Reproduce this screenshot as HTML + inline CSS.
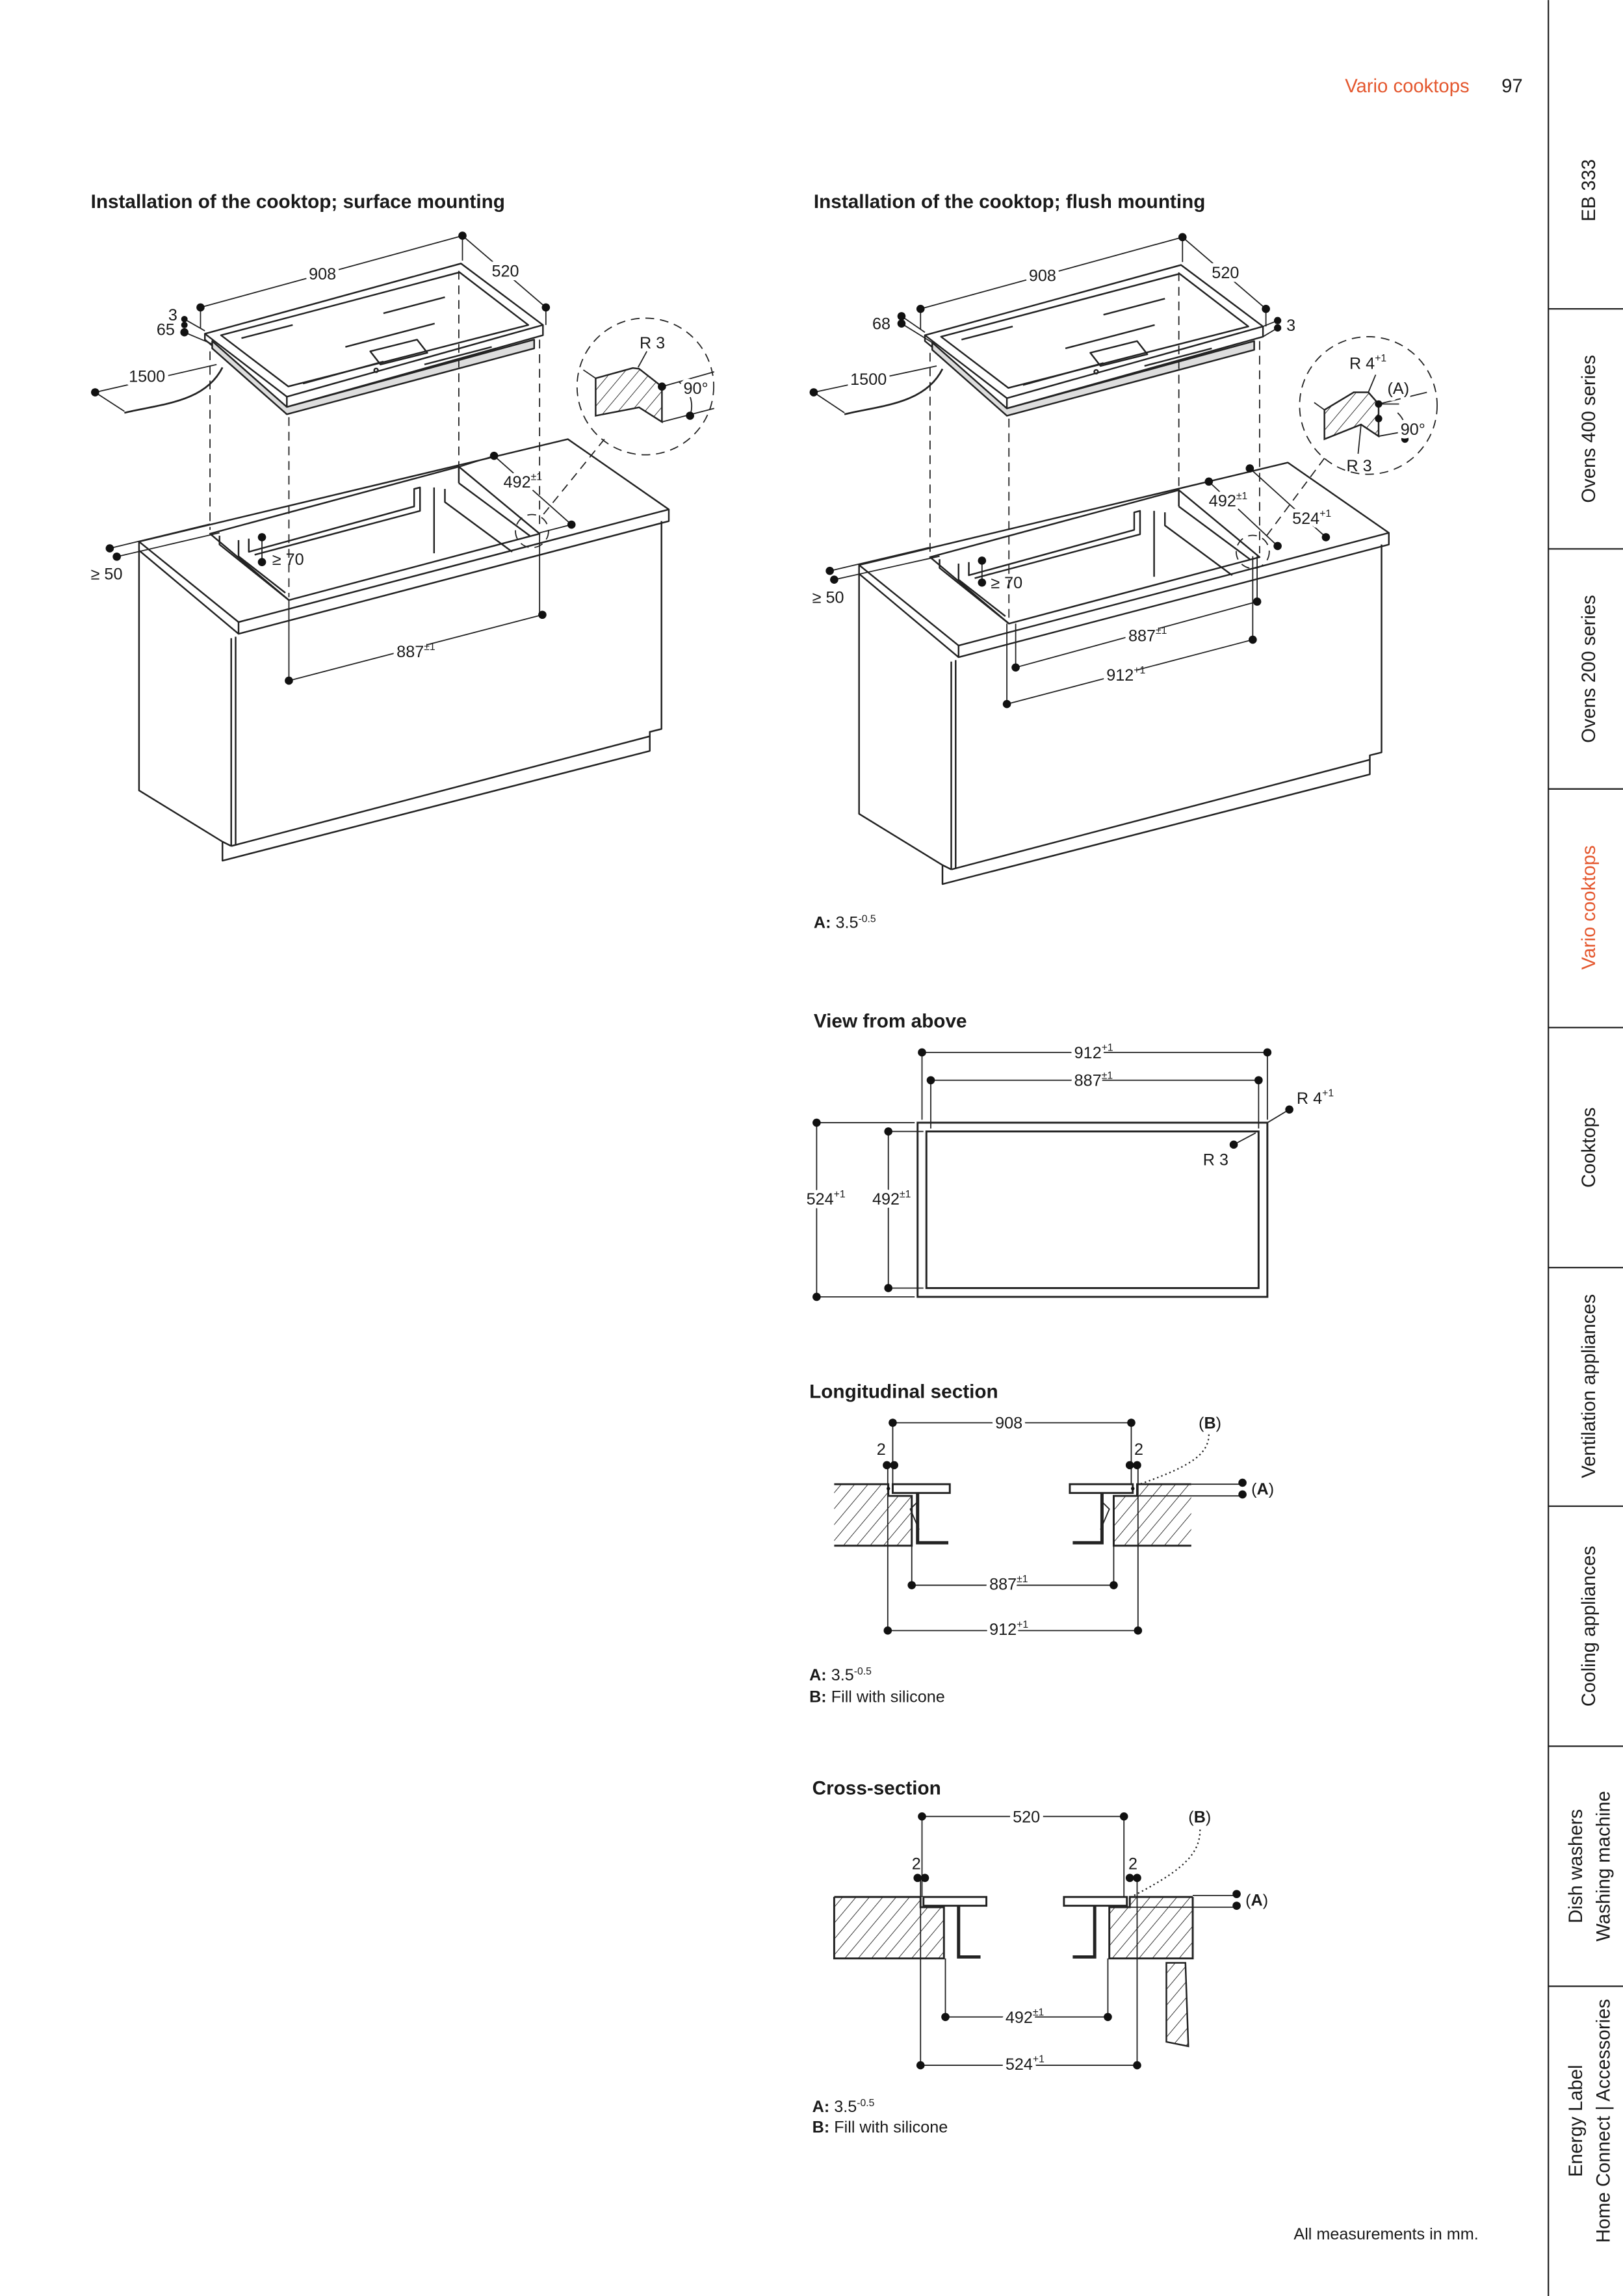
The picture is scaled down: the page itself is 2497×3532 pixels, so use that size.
<!DOCTYPE html>
<html><head><meta charset="utf-8"><style>
html,body{margin:0;padding:0;background:#fff}
svg{display:block}
text{font-family:"Liberation Sans",sans-serif;fill:#1a1a1a}
.h{font-size:13.2px;font-weight:bold}
.t{font-size:11.2px}
.s{font-size:7px;stroke:none}
.g{paint-order:stroke;stroke:#fff;stroke-width:5px;stroke-linejoin:round}
.side{font-size:13px}
</style></head><body>
<svg width="2497" height="3532" viewBox="0 0 1109 1568.6" xmlns="http://www.w3.org/2000/svg">
<defs>
<pattern id="hat" patternUnits="userSpaceOnUse" width="7" height="7" patternTransform="rotate(40)">
<line x1="0" y1="0" x2="0" y2="7" stroke="#222" stroke-width="0.8"/>
</pattern>
<g id="body" fill="none" stroke="#222" stroke-width="1.1" stroke-linejoin="round">
<polygon points="95,370 388,300 457,348 163,425" fill="#fff"/>
<polyline points="163,425 163,433 457,356 457,348"/>
<polyline points="95,370 95,376 163,433"/>
<polyline points="95,376 95,540 152,575 152,588 444,513 444,500 452,498 452,356"/>
<line x1="158" y1="436" x2="158" y2="578"/>
<line x1="161" y1="435" x2="161" y2="577"/>
<line x1="158" y1="578" x2="444" y2="503"/>
<line x1="152" y1="575" x2="158" y2="578"/>
<polygon points="143.5,364.6 313.5,318.8 368.7,364.6 197.4,410" fill="#fff"/>
<polyline points="150,366 150,372 197.4,410"/>
<polyline points="313.5,318.8 313.5,330"/>
<polyline points="313.5,330 362,366"/>
<polyline points="296.6,333 296.6,378"/>
<polyline points="163,369 163,380 195,405"/>
<polyline points="170,368 170,377 283,346 283,334 287,333 287,349 174,379"/>
<polyline points="304,334 304,343 350,377"/>
</g>
<g id="top" fill="none" stroke="#222" stroke-width="1.1" stroke-linejoin="round">
<polygon points="140,228 315,180 371,222 196,271" fill="#fff"/>
<polygon points="151,229 314,186 361,222 197,264"/>
<polyline points="140,228 140,232 196,278 371,229 371,222"/>
<line x1="196" y1="271" x2="196" y2="278"/>
<polygon points="145,233 145,238 196,283 365,238 365,232 196,278" fill="#ddd"/>
<line x1="165" y1="231" x2="200" y2="222"/>
<line x1="262" y1="214" x2="304" y2="203"/>
<line x1="236" y1="237" x2="297" y2="221"/>
<line x1="290" y1="249" x2="336" y2="237"/>
<line x1="207" y1="262" x2="262" y2="247"/>
<polygon points="253,240 285,232 292,241 260,249"/>
<circle cx="257" cy="253" r="1.3"/>
</g>
</defs>

<text x="919" y="63" style="font-size:13px;fill:#e4572e">Vario cooktops</text>
<text x="1026" y="63" style="font-size:13px">97</text>

<g stroke="#222" stroke-width="1">
<line x1="1058" y1="0" x2="1058" y2="1569"/>
<line x1="1058" y1="211" x2="1109" y2="211"/>
<line x1="1058" y1="375" x2="1109" y2="375"/>
<line x1="1058" y1="539" x2="1109" y2="539"/>
<line x1="1058" y1="702" x2="1109" y2="702"/>
<line x1="1058" y1="866" x2="1109" y2="866"/>
<line x1="1058" y1="1029" x2="1109" y2="1029"/>
<line x1="1058" y1="1193" x2="1109" y2="1193"/>
<line x1="1058" y1="1357" x2="1109" y2="1357"/>
</g>
<g class="side" text-anchor="middle">
<text transform="translate(1090,130) rotate(-90)">EB 333</text>
<text transform="translate(1090,293) rotate(-90)">Ovens 400 series</text>
<text transform="translate(1090,457) rotate(-90)">Ovens 200 series</text>
<text transform="translate(1090,620) rotate(-90)" style="fill:#e4572e">Vario cooktops</text>
<text transform="translate(1090,784) rotate(-90)">Cooktops</text>
<text transform="translate(1090,947) rotate(-90)">Ventilation appliances</text>
<text transform="translate(1090,1111) rotate(-90)">Cooling appliances</text>
<text transform="translate(1081,1275) rotate(-90)">Dish washers</text>
<text transform="translate(1100,1275) rotate(-90)">Washing machine</text>
<text transform="translate(1081,1449) rotate(-90)">Energy Label</text>
<text transform="translate(1100,1449) rotate(-90)">Home Connect | Accessories</text>
</g>

<text x="62" y="142" class="h">Installation of the cooktop; surface mounting</text>
<text x="556" y="142" class="h">Installation of the cooktop; flush mounting</text>
<text x="556" y="702" class="h">View from above</text>
<text x="553" y="955" class="h">Longitudinal section</text>
<text x="555" y="1226" class="h">Cross-section</text>

<!-- LEFT DRAWING -->
<use href="#body"/>
<use href="#top"/>
<g fill="none" stroke="#222" stroke-width="0.8">
<path d="M152,251 C140,275 110,276 85,282" stroke-width="1.2"/>
<line x1="65" y1="268" x2="85" y2="281"/>
<line x1="65" y1="268" x2="148" y2="249"/>
<g stroke-dasharray="6,4">
<line x1="143.5" y1="240" x2="143.5" y2="362"/>
<line x1="197.4" y1="285" x2="197.4" y2="408"/>
<line x1="313.5" y1="185" x2="313.5" y2="318"/>
<line x1="368.7" y1="232" x2="368.7" y2="362"/>
<circle cx="441" cy="264" r="46.7"/>
<circle cx="363.5" cy="362.8" r="11.3"/>
<line x1="413" y1="300" x2="370" y2="353"/>
</g>
<line x1="197.4" y1="410" x2="197.4" y2="465"/>
<line x1="368.7" y1="365" x2="368.7" y2="420"/>
<line x1="197.4" y1="465" x2="370.6" y2="420"/>
<line x1="137" y1="210" x2="316" y2="161"/>
<line x1="137" y1="210" x2="137" y2="224"/>
<line x1="316" y1="161" x2="316" y2="178"/>
<line x1="316" y1="161" x2="373" y2="210"/>
<line x1="373" y1="210" x2="373" y2="222"/>
<line x1="126" y1="218" x2="140" y2="226"/>
<line x1="126" y1="227" x2="145" y2="235"/>
<line x1="337.6" y1="311.4" x2="390.5" y2="358.4"/>
<line x1="337.6" y1="311.4" x2="313.5" y2="319"/>
<line x1="390.5" y1="358.4" x2="368.7" y2="364"/>
<line x1="75" y1="374.6" x2="143.5" y2="358"/>
<line x1="79.8" y1="380.3" x2="150" y2="364"/>
<line x1="179" y1="367" x2="179" y2="384"/>
<polygon points="407,258.4 432.4,251.4 436.7,251.9 452.3,264.1 452.3,288.2 436.7,278.3 407,284" fill="url(#hat)" stroke-width="1.1"/>
<line x1="398.6" y1="252.7" x2="407" y2="258.4"/>
<line x1="452.3" y1="264.1" x2="488" y2="254"/>
<line x1="452.3" y1="288.2" x2="488" y2="279"/>
<path d="M464,261 A20,20 0 0 1 471.5,284"/>
<line x1="436" y1="251" x2="442" y2="240"/>
</g>
<g fill="#111">
<circle cx="137" cy="210" r="2.8"/><circle cx="316" cy="161" r="2.8"/><circle cx="373" cy="210" r="2.8"/>
<circle cx="126" cy="218" r="2.2"/><circle cx="126" cy="222" r="2.2"/><circle cx="126" cy="227" r="2.8"/>
<circle cx="65" cy="268" r="2.8"/>
<circle cx="75" cy="374.6" r="2.8"/><circle cx="79.8" cy="380.3" r="2.8"/>
<circle cx="179" cy="367" r="2.8"/><circle cx="179" cy="384" r="2.8"/>
<circle cx="337.6" cy="311.4" r="2.8"/><circle cx="390.5" cy="358.4" r="2.8"/>
<circle cx="197.4" cy="465" r="2.8"/><circle cx="370.6" cy="420" r="2.8"/>
<circle cx="452.3" cy="264.1" r="2.8"/><circle cx="471.5" cy="284" r="2.8"/>
</g>
<g class="t">
<text x="211" y="191" class="g">908</text>
<text x="336" y="189" class="g">520</text>
<text x="115" y="219">3</text>
<text x="107" y="229">65</text>
<text x="88" y="261" class="g">1500</text>
<text x="344" y="333" class="g">492<tspan class="s" dy="-5">±1</tspan></text>
<text x="271" y="449" class="g">887<tspan class="s" dy="-5">±1</tspan></text>
<text x="62" y="396">≥ 50</text>
<text x="186" y="386">≥ 70</text>
<text x="437" y="238">R 3</text>
<text x="467" y="269" class="g">90°</text>
</g>

<!-- RIGHT DRAWING -->
<use href="#body" transform="translate(492,16)"/>
<use href="#top" transform="translate(492,1)"/>
<g fill="none" stroke="#222" stroke-width="0.8">
<path d="M644,252 C632,276 602,277 577,283" stroke-width="1.2"/>
<line x1="556" y1="268" x2="577" y2="282"/>
<line x1="556" y1="268" x2="640" y2="250"/>
<g stroke-dasharray="6,4">
<line x1="635.5" y1="241" x2="635.5" y2="378"/>
<line x1="689.4" y1="286" x2="689.4" y2="424"/>
<line x1="805.5" y1="186" x2="805.5" y2="334"/>
<line x1="860.7" y1="233" x2="860.7" y2="378"/>
<circle cx="935" cy="277" r="47"/>
<circle cx="856" cy="377" r="11.3"/>
<line x1="905" y1="313" x2="864" y2="368"/>
</g>
<line x1="694" y1="426" x2="694" y2="456"/>
<line x1="688" y1="426" x2="688" y2="481"/>
<line x1="856" y1="380" x2="856" y2="437"/>
<line x1="859" y1="380" x2="859" y2="411"/>
<line x1="694" y1="456" x2="859" y2="411"/>
<line x1="688" y1="481" x2="856" y2="437"/>
<line x1="629" y1="211" x2="808" y2="162"/>
<line x1="629" y1="211" x2="629" y2="225"/>
<line x1="808" y1="162" x2="808" y2="179"/>
<line x1="808" y1="162" x2="865" y2="211"/>
<line x1="865" y1="211" x2="865" y2="223"/>
<line x1="616" y1="216" x2="632" y2="227"/>
<line x1="616" y1="221" x2="637" y2="234"/>
<line x1="873" y1="219" x2="863" y2="223"/>
<line x1="873" y1="224" x2="863" y2="230"/>
<line x1="826" y1="329" x2="873" y2="373"/>
<line x1="854" y1="320" x2="906" y2="367"/>
<line x1="567" y1="390" x2="635" y2="374"/>
<line x1="570" y1="396" x2="642" y2="380"/>
<line x1="671" y1="383" x2="671" y2="398"/>
<polygon points="905,280 925,268 935,268 942,276 942,298 930,290 905,300" fill="url(#hat)" stroke-width="1.1"/>
<line x1="898" y1="275" x2="905" y2="280"/>
<line x1="942" y1="276" x2="975" y2="268"/>
<line x1="942" y1="298" x2="975" y2="292"/>
<line x1="935" y1="268" x2="940" y2="256"/>
<line x1="942" y1="276" x2="956" y2="276"/>
<path d="M955,282 A18,18 0 0 1 960,300"/>
<line x1="930" y1="290" x2="928" y2="310"/>
</g>
<g fill="#111">
<circle cx="629" cy="211" r="2.8"/><circle cx="808" cy="162" r="2.8"/><circle cx="865" cy="211" r="2.8"/>
<circle cx="616" cy="216" r="2.8"/><circle cx="616" cy="221" r="2.8"/>
<circle cx="873" cy="219" r="2.5"/><circle cx="873" cy="224" r="2.5"/>
<circle cx="556" cy="268" r="2.8"/>
<circle cx="567" cy="390" r="2.8"/><circle cx="570" cy="396" r="2.8"/>
<circle cx="671" cy="383" r="2.8"/><circle cx="671" cy="398" r="2.8"/>
<circle cx="826" cy="329" r="2.8"/><circle cx="873" cy="373" r="2.8"/>
<circle cx="854" cy="320" r="2.8"/><circle cx="906" cy="367" r="2.8"/>
<circle cx="694" cy="456" r="2.8"/><circle cx="859" cy="411" r="2.8"/>
<circle cx="688" cy="481" r="2.8"/><circle cx="856" cy="437" r="2.8"/>
<circle cx="942" cy="276" r="2.5"/><circle cx="942" cy="286" r="2.5"/><circle cx="960" cy="300" r="2.5"/>
</g>
<g class="t">
<text x="703" y="192" class="g">908</text>
<text x="828" y="190" class="g">520</text>
<text x="596" y="225">68</text>
<text x="879" y="226">3</text>
<text x="581" y="263" class="g">1500</text>
<text x="826" y="346" class="g">492<tspan class="s" dy="-5">±1</tspan></text>
<text x="883" y="358" class="g">524<tspan class="s" dy="-5">+1</tspan></text>
<text x="771" y="438" class="g">887<tspan class="s" dy="-5">±1</tspan></text>
<text x="756" y="465" class="g">912<tspan class="s" dy="-5">+1</tspan></text>
<text x="555" y="412">≥ 50</text>
<text x="677" y="402">≥ 70</text>
<text x="922" y="252">R 4<tspan class="s" dy="-5">+1</tspan></text>
<text x="948" y="269" class="g">(A)</text>
<text x="957" y="297" class="g">90°</text>
<text x="920" y="322">R 3</text>
</g>
<text x="556" y="634" class="t"><tspan font-weight="bold">A:</tspan> 3.5<tspan class="s" dy="-4">-0.5</tspan></text>

<!-- VIEW FROM ABOVE -->
<g fill="none" stroke="#222">
<rect x="627" y="767" width="239" height="119" stroke-width="1.3"/>
<rect x="633" y="773" width="227" height="107" stroke-width="1.3"/>
<g stroke-width="0.8">
<line x1="630" y1="719" x2="866" y2="719"/><line x1="630" y1="719" x2="630" y2="765"/><line x1="866" y1="719" x2="866" y2="765"/>
<line x1="636" y1="738" x2="860" y2="738"/><line x1="636" y1="738" x2="636" y2="771"/><line x1="860" y1="738" x2="860" y2="771"/>
<line x1="558" y1="767" x2="625" y2="767"/><line x1="558" y1="886" x2="625" y2="886"/><line x1="558" y1="767" x2="558" y2="886"/>
<line x1="607" y1="773" x2="631" y2="773"/><line x1="607" y1="880" x2="631" y2="880"/><line x1="607" y1="773" x2="607" y2="880"/>
<line x1="881" y1="758" x2="866" y2="767"/>
<line x1="843" y1="782" x2="858" y2="774"/>
</g>
</g>
<g fill="#111">
<circle cx="630" cy="719" r="2.8"/><circle cx="866" cy="719" r="2.8"/>
<circle cx="636" cy="738" r="2.8"/><circle cx="860" cy="738" r="2.8"/>
<circle cx="558" cy="767" r="2.8"/><circle cx="558" cy="886" r="2.8"/>
<circle cx="607" cy="773" r="2.8"/><circle cx="607" cy="880" r="2.8"/>
<circle cx="881" cy="758" r="2.8"/><circle cx="843" cy="782" r="2.8"/>
</g>
<g class="t">
<text x="734" y="723" class="g">912<tspan class="s" dy="-5">+1</tspan></text>
<text x="734" y="742" class="g">887<tspan class="s" dy="-5">±1</tspan></text>
<text x="886" y="754">R 4<tspan class="s" dy="-5">+1</tspan></text>
<text x="822" y="796">R 3</text>
<text x="551" y="823" class="g">524<tspan class="s" dy="-5">+1</tspan></text>
<text x="596" y="823" class="g">492<tspan class="s" dy="-5">±1</tspan></text>
</g>

<!-- LONGITUDINAL SECTION -->
<g fill="none" stroke="#222" stroke-width="0.8">
<polygon points="570,1014 607,1014 607,1022 623,1022 623,1056 570,1056" fill="url(#hat)" stroke="none"/>
<polyline points="570,1014 607,1014 607,1022 623,1022 623,1056 570,1056" stroke-width="1.3"/>
<polygon points="814,1014 777,1014 777,1022 761,1022 761,1056 814,1056" fill="url(#hat)" stroke="none"/>
<polyline points="814,1014 777,1014 777,1022 761,1022 761,1056 814,1056" stroke-width="1.3"/>
<rect x="610" y="1014" width="39" height="6" stroke-width="1.3" fill="#fff"/>
<rect x="731" y="1014" width="43" height="6" stroke-width="1.3" fill="#fff"/>
<polyline points="627,1020 627,1054 648,1054" stroke-width="2.2"/>
<polyline points="753,1020 753,1054 733,1054" stroke-width="2.2"/>
<polyline points="627,1026 622,1031 628,1045"/>
<polyline points="753,1026 758,1031 752,1045"/>
<line x1="610" y1="972" x2="773" y2="972"/>
<line x1="610" y1="972" x2="610" y2="1014"/>
<line x1="773" y1="972" x2="773" y2="1014"/>
<line x1="606.6" y1="1001" x2="606.6" y2="1114"/>
<line x1="777.6" y1="1001" x2="777.6" y2="1114"/>
<line x1="606.6" y1="1114" x2="777.6" y2="1114"/>
<line x1="623" y1="1056" x2="623" y2="1083"/>
<line x1="761" y1="1056" x2="761" y2="1083"/>
<line x1="623" y1="1083" x2="761" y2="1083"/>
<line x1="814" y1="1014" x2="849" y2="1014"/>
<line x1="777" y1="1022" x2="849" y2="1022"/>
<path d="M826,980 C826,995 810,1003 776,1015" stroke-dasharray="1,2" stroke-width="1"/>
</g>
<g fill="#111">
<circle cx="610" cy="972" r="2.8"/><circle cx="773" cy="972" r="2.8"/>
<circle cx="606" cy="1001" r="2.8"/><circle cx="611" cy="1001" r="2.8"/>
<circle cx="772" cy="1001" r="2.8"/><circle cx="777" cy="1001" r="2.8"/>
<circle cx="623" cy="1083" r="2.8"/><circle cx="761" cy="1083" r="2.8"/>
<circle cx="606.6" cy="1114" r="2.8"/><circle cx="777.6" cy="1114" r="2.8"/>
<circle cx="849" cy="1013" r="2.8"/><circle cx="849" cy="1021" r="2.8"/>
<circle cx="607" cy="1017" r="1.2"/><circle cx="774" cy="1017" r="1.2"/>
</g>
<g class="t">
<text x="680" y="976" class="g">908</text>
<text x="599" y="994">2</text>
<text x="775" y="994">2</text>
<text x="819" y="976">(<tspan font-weight="bold">B</tspan>)</text>
<text x="855" y="1021">(<tspan font-weight="bold">A</tspan>)</text>
<text x="676" y="1086" class="g">887<tspan class="s" dy="-5">±1</tspan></text>
<text x="676" y="1117" class="g">912<tspan class="s" dy="-5">+1</tspan></text>
<text x="553" y="1148"><tspan font-weight="bold">A:</tspan> 3.5<tspan class="s" dy="-4">-0.5</tspan></text>
<text x="553" y="1163"><tspan font-weight="bold">B:</tspan> Fill with silicone</text>
</g>

<!-- CROSS SECTION -->
<g fill="none" stroke="#222" stroke-width="0.8">
<polygon points="570,1296 629,1296 629,1303 645,1303 645,1338 570,1338" fill="url(#hat)" stroke="none"/>
<polyline points="570,1296 629,1296 629,1303 645,1303 645,1338 570,1338 570,1296" stroke-width="1.3"/>
<polygon points="815,1296 772,1296 772,1303 758,1303 758,1338 815,1338" fill="url(#hat)" stroke="none"/>
<polyline points="815,1296 772,1296 772,1303 758,1303 758,1338 815,1338 815,1296" stroke-width="1.3"/>
<polygon points="797,1341 810,1341 812,1398 797,1395" fill="url(#hat)" stroke-width="1.1"/>
<rect x="631" y="1296" width="43" height="6" stroke-width="1.3" fill="#fff"/>
<rect x="727" y="1296" width="43" height="6" stroke-width="1.3" fill="#fff"/>
<polyline points="655,1302 655,1337 670,1337" stroke-width="2.2"/>
<polyline points="748,1302 748,1337 733,1337" stroke-width="2.2"/>
<line x1="630" y1="1241" x2="768" y2="1241"/>
<line x1="630" y1="1241" x2="630" y2="1296"/>
<line x1="768" y1="1241" x2="768" y2="1296"/>
<line x1="629" y1="1283" x2="629" y2="1411"/>
<line x1="777" y1="1283" x2="777" y2="1411"/>
<line x1="629" y1="1411" x2="777" y2="1411"/>
<line x1="646" y1="1338" x2="646" y2="1378"/>
<line x1="757" y1="1338" x2="757" y2="1378"/>
<line x1="646" y1="1378" x2="757" y2="1378"/>
<line x1="815" y1="1295" x2="845" y2="1295"/>
<line x1="772" y1="1303" x2="845" y2="1303"/>
<path d="M820,1250 C820,1268 806,1279 771,1297" stroke-dasharray="1,2" stroke-width="1"/>
</g>
<g fill="#111">
<circle cx="630" cy="1241" r="2.8"/><circle cx="768" cy="1241" r="2.8"/>
<circle cx="627" cy="1283" r="2.8"/><circle cx="632" cy="1283" r="2.8"/>
<circle cx="772" cy="1283" r="2.8"/><circle cx="777" cy="1283" r="2.8"/>
<circle cx="646" cy="1378" r="2.8"/><circle cx="757" cy="1378" r="2.8"/>
<circle cx="629" cy="1411" r="2.8"/><circle cx="777" cy="1411" r="2.8"/>
<circle cx="845" cy="1294" r="2.8"/><circle cx="845" cy="1302" r="2.8"/>
</g>
<g class="t">
<text x="692" y="1245" class="g">520</text>
<text x="623" y="1277">2</text>
<text x="771" y="1277">2</text>
<text x="812" y="1245">(<tspan font-weight="bold">B</tspan>)</text>
<text x="851" y="1302">(<tspan font-weight="bold">A</tspan>)</text>
<text x="687" y="1382" class="g">492<tspan class="s" dy="-5">±1</tspan></text>
<text x="687" y="1414" class="g">524<tspan class="s" dy="-5">+1</tspan></text>
<text x="555" y="1443"><tspan font-weight="bold">A:</tspan> 3.5<tspan class="s" dy="-4">-0.5</tspan></text>
<text x="555" y="1457"><tspan font-weight="bold">B:</tspan> Fill with silicone</text>
</g>

<text x="884" y="1530" class="t">All measurements in mm.</text>
</svg>
</body></html>
